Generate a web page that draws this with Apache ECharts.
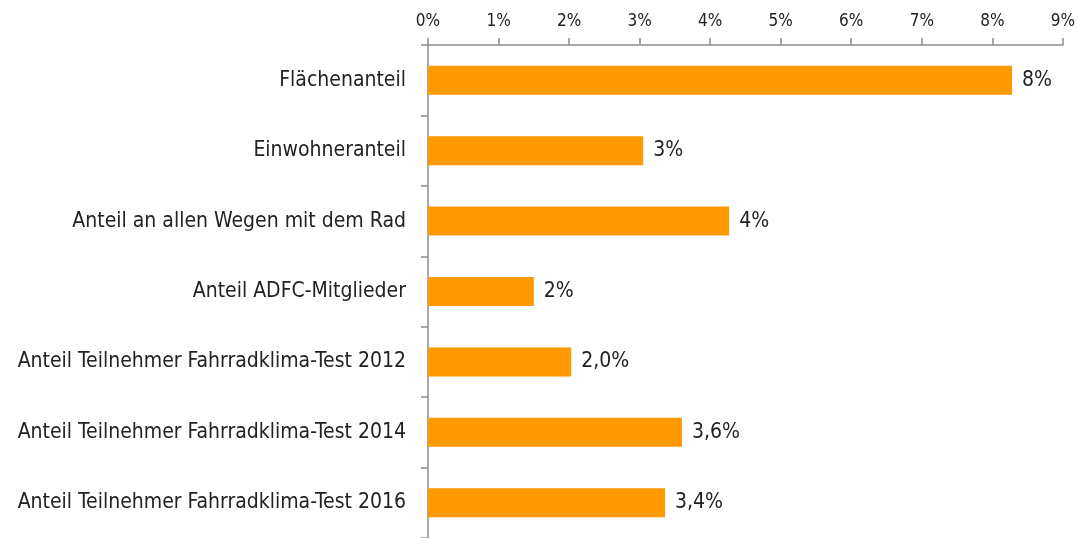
<!DOCTYPE html>
<html>
<head>
<meta charset="utf-8">
<script src="https://cdn.jsdelivr.net/npm/echarts@6/dist/echarts.min.js"></script>
<style>
  html, body { margin: 0; padding: 0; background: #fff; }
  #chart { width: 1078px; height: 538px; }
</style>
</head>
<body>
<div id="chart"></div>
<script>
'use strict';

var categories = [
    'Flächenanteil',
    'Einwohneranteil',
    'Anteil an allen Wegen mit dem Rad',
    'Anteil ADFC-Mitglieder',
    'Anteil Teilnehmer Fahrradklima-Test 2012',
    'Anteil Teilnehmer Fahrradklima-Test 2014',
    'Anteil Teilnehmer Fahrradklima-Test 2016'
];
var shares = [8.28, 3.05, 4.27, 1.5, 2.03, 3.6, 3.36];
var valueLabels = ['8%', '3%', '4%', '2%', '2,0%', '3,6%', '3,4%'];

var font = '"Liberation Sans Narrow", "DejaVu Sans Condensed", sans-serif';

var myChart = echarts.init(document.getElementById('chart'));

var option = {
    animation: false,
    grid: {
        left: 428,
        width: 635,
        top: 45,
        height: 499
    },
    xAxis: {
        type: 'value',
        position: 'top',
        min: 0,
        max: 9,
        interval: 1,
        axisLine: { show: true, lineStyle: { color: '#8c8c8c', width: 1.5 } },
        axisTick: { show: true, length: 7, lineStyle: { color: '#8c8c8c', width: 1.5 } },
        splitLine: { show: false },
        axisLabel: {
            formatter: '{value}%',
            fontFamily: font,
            fontSize: 17,
            color: '#222',
            margin: 15
        }
    },
    yAxis: {
        type: 'category',
        inverse: true,
        data: categories,
        axisLine: { show: true, lineStyle: { color: '#8c8c8c', width: 1.5 } },
        axisTick: { show: true, length: 7, lineStyle: { color: '#8c8c8c', width: 1.5 } },
        axisLabel: {
            fontFamily: font,
            fontSize: 21,
            color: '#222',
            margin: 22
        }
    },
    series: [{
        type: 'bar',
        data: shares,
        barWidth: 29,
        itemStyle: { color: '#ff9900' },
        label: {
            show: true,
            position: 'right',
            distance: 10,
            fontFamily: font,
            fontSize: 21,
            color: '#222',
            formatter: function(p){
                return valueLabels[p.dataIndex];
            }
        }
    }]
};

myChart.setOption(option);
</script>
</body>
</html>
